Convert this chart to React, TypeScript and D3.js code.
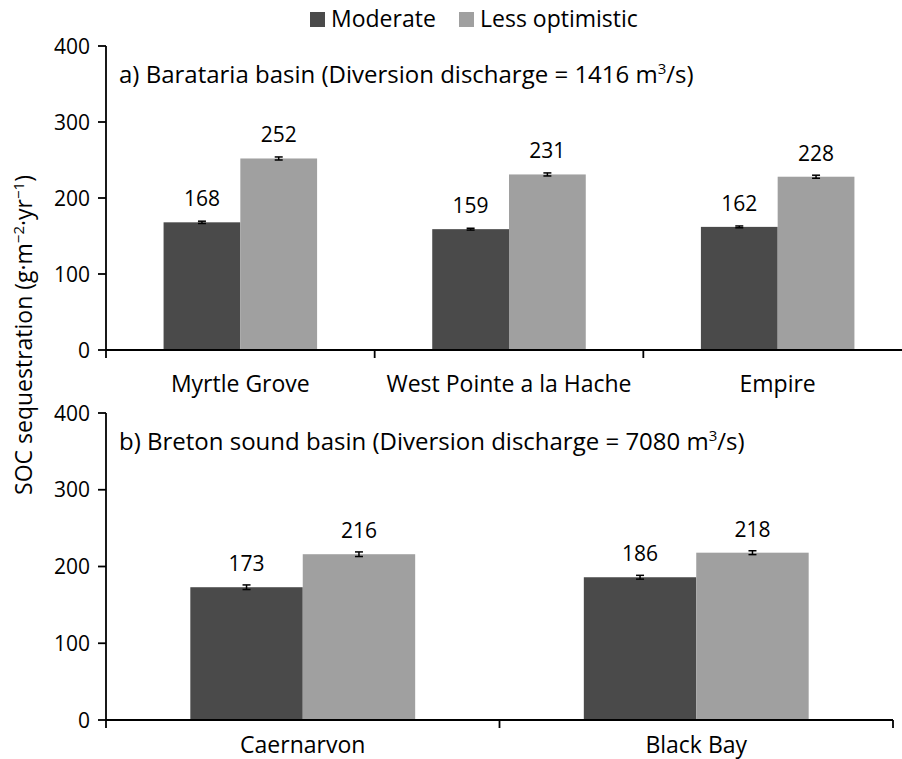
import * as d3 from 'd3';

// series and values
const series = ['Moderate', 'Less optimistic'];
const colors = ['#4a4a4a', '#a0a0a0'];

const sitesA = ['Myrtle Grove', 'West Pointe a la Hache', 'Empire'];
const moderateA = [168, 159, 162];
const lessOptA = [252, 231, 228];
const moderateErrA = [1.5, 1.2, 1.2];
const lessOptErrA = [2, 2, 2];

const sitesB = ['Caernarvon', 'Black Bay'];
const moderateB = [173, 186];
const lessOptB = [216, 218];
const moderateErrB = [3, 2.5];
const lessOptErrB = [3, 2.5];

const yTicks = [0, 100, 200, 300, 400];

const FONT = '"Open Sans", Lato, sans-serif';

type PanelProps = {
    sites: string[];
    values: number[][];
    errors: number[][];
    x0: number;
    x1: number;
    yBottom: number;
    yTop: number;
    title: string;
    titleSup: string;
    titleEnd: string;
    titleY: number;
    labelOffset: number;
};

const Panel = ({ sites, values, errors, x0, x1, yBottom, yTop, title, titleSup, titleEnd, titleY, labelOffset }: PanelProps) => {
    const x = d3.scaleBand<string>().domain(sites).range([x0, x1]).padding(0);
    const bw = x.bandwidth();
    // Excel-like gap width of 150%
    const gap = (0.75 / 3.5) * bw;
    const xs = d3.scaleBand<string>().domain(series).range([gap, bw - gap]).padding(0);
    const y = d3.scaleLinear().domain([0, 400]).range([yBottom, yTop]);

    const boundaries = [...sites.map(s => x(s) as number), x1];

    return (
        <g>
            {/* bars */}
            {sites.map((s, i) => (
                <g key={s} transform={`translate(${x(s)},0)`}>
                    {series.map((k, j) => {
                        const v = values[j][i];
                        const e = errors[j][i];
                        const bx = xs(k) as number;
                        const cx = bx + xs.bandwidth() / 2;
                        return (
                            <g key={k}>
                                <rect x={bx} y={y(v)} width={xs.bandwidth()} height={y(0) - y(v)} fill={colors[j]} />
                                <line x1={cx} x2={cx} y1={y(v + e)} y2={y(v - e)} stroke="#000" strokeWidth={1.5} />
                                <line x1={cx - 4} x2={cx + 4} y1={y(v + e)} y2={y(v + e)} stroke="#000" strokeWidth={1.5} />
                                <line x1={cx - 4} x2={cx + 4} y1={y(v - e)} y2={y(v - e)} stroke="#000" strokeWidth={1.5} />
                                <text x={cx} y={y(v) - 16} textAnchor="middle" fontSize={21} fill="#000">{v}</text>
                            </g>
                        );
                    })}
                </g>
            ))}

            {/* y axis */}
            <line x1={x0} x2={x0} y1={y(400)} y2={y(0)} stroke="#000" strokeWidth={1.8} />
            {yTicks.map(t => (
                <g key={t} transform={`translate(0,${y(t)})`}>
                    <line x1={x0 - 8} x2={x0} stroke="#000" strokeWidth={1.8} />
                    <text x={x0 - 16} dy="0.36em" textAnchor="end" fontSize={21} fill="#000">{t}</text>
                </g>
            ))}

            {/* x axis */}
            <line x1={x0} x2={x1} y1={y(0)} y2={y(0)} stroke="#000" strokeWidth={1.8} />
            {boundaries.map((b, i) => (
                <line key={i} x1={b} x2={b} y1={y(0)} y2={y(0) + 8} stroke="#000" strokeWidth={1.8} />
            ))}
            {sites.map(s => (
                <text key={s} x={(x(s) as number) + bw / 2} y={y(0) + labelOffset} textAnchor="middle" fontSize={23} fill="#000">{s}</text>
            ))}

            {/* panel title */}
            <text x={x0 + 13} y={titleY} dy="0.36em" fontSize={24} fill="#000">
                {title}
                <tspan dy={-9} fontSize={15}>{titleSup}</tspan>
                <tspan dy={9}>{titleEnd}</tspan>
            </text>
        </g>
    );
};

export default function App() {
    const width = 902;
    const height = 759;
    return (
        <svg width={width} height={height} style={{ position: 'absolute', left: 0, top: 0, background: '#fff', fontFamily: FONT }}>
            {/* legend */}
            <g>
                <rect x={310} y={12} width={15} height={15} fill={colors[0]} />
                <text x={331} y={19} dy="0.36em" fontSize={23} fill="#000">{series[0]}</text>
                <rect x={459} y={12} width={15} height={15} fill={colors[1]} />
                <text x={480} y={19} dy="0.36em" fontSize={23} fill="#000">{series[1]}</text>
            </g>

            <Panel
                sites={sitesA}
                values={[moderateA, lessOptA]}
                errors={[moderateErrA, lessOptErrA]}
                x0={106}
                x1={912}
                yBottom={350}
                yTop={46}
                title="a) Barataria basin (Diversion discharge = 1416 m"
                titleSup="3"
                titleEnd="/s)"
                titleY={74}
                labelOffset={42}
            />
            <Panel
                sites={sitesB}
                values={[moderateB, lessOptB]}
                errors={[moderateErrB, lessOptErrB]}
                x0={106}
                x1={893}
                yBottom={720}
                yTop={413}
                title="b) Breton sound basin (Diversion discharge = 7080 m"
                titleSup="3"
                titleEnd="/s)"
                titleY={441}
                labelOffset={33}
            />

            {/* y axis label */}
            <text transform="translate(24,335) rotate(-90)" textAnchor="middle" dy="0.36em" fontSize={23} fill="#000">
                SOC sequestration (g·m
                <tspan dy={-8} fontSize={15}>−2</tspan>
                <tspan dy={8}>·yr</tspan>
                <tspan dy={-8} fontSize={15}>−1</tspan>
                <tspan dy={8}>)</tspan>
            </text>
        </svg>
    );
}
